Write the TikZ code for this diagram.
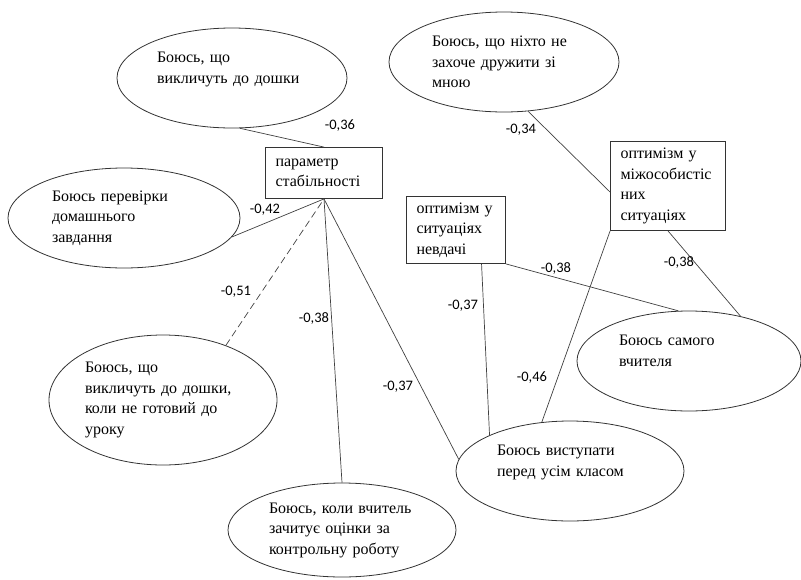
\documentclass[tikz,border=0pt]{standalone}
\usepackage{fontspec}
\setmainfont{Liberation Serif}
\newfontfamily\fearfont{Liberation Serif}
\newfontfamily\coeffont{Carlito}
\usetikzlibrary{shapes.geometric}

\begin{document}
\begin{tikzpicture}[x=1pt,y=-1pt,
  fear/.style={ellipse,draw=black!80,line width=0.8pt,inner sep=0pt,align=left,font=\fearfont\fontsize{16}{20.5}\selectfont},
  factor/.style={rectangle,draw=black!80,line width=0.8pt,inner xsep=10pt,inner ysep=0pt,align=left,font=\fearfont\fontsize{16}{20.5}\selectfont},
  coef/.style={font=\coeffont\fontsize{14.5}{17}\selectfont,inner sep=0pt},
  link/.style={black!75,line width=0.7pt}]
\useasboundingbox (0,0) rectangle (801,579);
\node[fear,minimum width=230,minimum height=100,text width=150] (board) at (232,78) {Боюсь, що\\викличуть до дошки\\\mbox{}};
\node[fear,minimum width=232,minimum height=100,text width=144] (homework) at (124,218) {Боюсь перевірки\\домашнього\\завдання};
\node[fear,minimum width=230,minimum height=100,text width=144] (friends) at (504,62) {Боюсь, що ніхто не\\захоче дружити зі\\мною};
\node[fear,minimum width=228,minimum height=130,text width=156] (unready) at (163,400) {Боюсь, що\\викличуть до дошки,\\коли не готовий до\\уроку};
\node[fear,minimum width=228,minimum height=94,text width=146] (marks) at (342,530) {Боюсь, коли вчитель\\зачитує оцінки за\\контрольну роботу};
\node[fear,minimum width=224,minimum height=100,text width=140] (teacher) at (689,361) {Боюсь самого\\вчителя\\\mbox{}};
\node[fear,minimum width=228,minimum height=100,text width=146] (class) at (570,471) {Боюсь виступати\\перед усім класом\\\mbox{}};

\node[factor,text width=97,minimum height=51] (stab) at (324,173) {параметр\\стабільності};
\node[factor,text width=95,minimum height=89] (interp) at (668,186) {оптимізм у\\міжособистіс\\них\\ситуаціях};
\node[factor,text width=79,minimum height=67] (failure) at (456,230) {оптимізм у\\ситуаціях\\невдачі};

\draw[link] (board.-81) -- (stab.north);
\draw[link] (homework.-10) -- (stab.south);
\draw[link,dash pattern=on 7pt off 4pt] (unready.41) -- (stab.south);
\draw[link] (marks.north) -- (stab.south);
\draw[link] (class.174) -- (stab.south);
\draw[link] (failure.-53) -- (class.156);
\draw[link] (failure.south east) -- (teacher.102);
\draw[link] (interp.south west) -- (class.120);
\draw[link] (friends.-64) -- (interp.186);
\draw[link] (interp.south) -- (teacher.41);

\node[coef] (cBoard) at (340,126) {-0,36};
\node[coef] (cHomework) at (265,210) {-0,42};
\node[coef] (cUnready) at (236,292) {-0,51};
\node[coef] (cMarks) at (314,318) {-0,38};
\node[coef] (cStabClass) at (398,387) {-0,37};
\node[coef] (cFailClass) at (463,306) {-0,37};
\node[coef] (cFailTeacher) at (556,268) {-0,38};
\node[coef] (cInterpClass) at (532,378) {-0,46};
\node[coef] (cFriends) at (521,130) {-0,34};
\node[coef] (cInterpTeacher) at (679,262) {-0,38};
\end{tikzpicture}
\end{document}
